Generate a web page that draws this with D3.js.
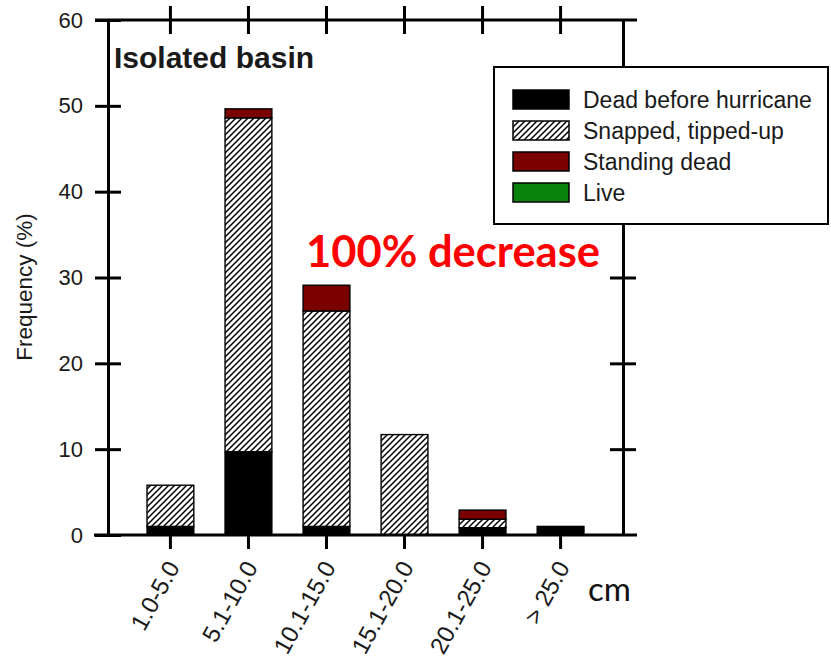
<!DOCTYPE html>
<html>
<head>
<meta charset="utf-8">
<script src="https://cdn.jsdelivr.net/npm/d3@7"></script>
<style>
  html, body { margin: 0; padding: 0; background: #fff; }
  svg text { font-family: "Liberation Sans", Arial, sans-serif; fill: #1a1a1a; }
</style>
</head>
<body>
<div id="container"></div>
<script>
// size classes (cm) and stacked frequencies (%)
const sizeClasses = ["1.0-5.0", "5.1-10.0", "10.1-15.0", "15.1-20.0", "20.1-25.0", "> 25.0"]
const deadBefore   = [1.0, 9.7, 1.0, 0, 0.85, 1.0]
const snapped      = [4.8, 38.9, 25.1, 11.7, 1.0, 0]
const standingDead = [0, 1.05, 3.0, 0, 1.05, 0]
const live         = [0, 0, 0, 0, 0, 0]
const yTicks = [0, 10, 20, 30, 40, 50, 60]

const seriesKeys = ["dead", "snapped", "standing", "live"]
const seriesNames = ["Dead before hurricane", "Snapped, tipped-up", "Standing dead", "Live"]
const fills = {dead: "#000", snapped: "url(#hatch)", standing: "#7b0000", live: "#0b820b"}

const data = sizeClasses.map((c, i) => ({
  cls: c, dead: deadBefore[i], snapped: snapped[i], standing: standingDead[i], live: live[i]
}))

const width = 831, height = 662
const plotLeft = 108, plotRight = 623, plotTop = 20, plotBottom = 535

const svg = d3.select("#container").append("svg")
  .attr("width", width)
  .attr("height", height)

// hatch pattern
svg.append("defs").append("pattern")
  .attr("id", "hatch")
  .attr("patternUnits", "userSpaceOnUse")
  .attr("width", 6).attr("height", 6)
  .call(p => p.append("rect").attr("width", 6).attr("height", 6).attr("fill", "#fff"))
  .append("path")
  .attr("d", "M0,6 L6,0 M-1,1 L1,-1 M5,7 L7,5")
  .attr("stroke", "#000").attr("stroke-width", 1.5)

const x = d3.scaleBand()
  .domain(sizeClasses)
  .range([plotLeft, plotRight])
  .paddingInner(0.4)
  .paddingOuter(0.5)

const y = d3.scaleLinear()
  .domain([0, 60])
  .range([plotBottom, plotTop])

// bars
const stacked = d3.stack().keys(seriesKeys)(data)
svg.append("g").selectAll("g")
  .data(stacked)
  .enter().append("g")
  .attr("fill", d => fills[d.key])
  .selectAll("rect")
  .data(d => d.filter(s => s[1] - s[0] > 0))
  .enter().append("rect")
  .attr("x", d => x(d.data.cls))
  .attr("y", d => y(d[1]))
  .attr("width", x.bandwidth())
  .attr("height", d => y(d[0]) - y(d[1]))
  .attr("stroke", "#000")
  .attr("stroke-width", 1.4)

/* axes */
const styleAxis = g => {
  g.select(".domain").attr("stroke", "#000").attr("stroke-width", 3)
  g.selectAll(".tick line").attr("stroke", "#000").attr("stroke-width", 3)
}

svg.append("g")
  .attr("transform", `translate(${plotLeft},0)`)
  .call(d3.axisLeft(y).tickValues(yTicks).tickSize(13).tickSizeOuter(0).tickPadding(12))
  .call(styleAxis)
  .call(g => g.selectAll(".tick line").attr("x1", 13))
  .call(g => g.selectAll(".tick text").attr("font-size", 22).attr("fill", "#1a1a1a"))

svg.append("g")
  .attr("transform", `translate(${plotRight},0)`)
  .call(d3.axisRight(y).tickValues(yTicks.slice(1, -1)).tickSize(13).tickSizeOuter(0).tickFormat(""))
  .call(styleAxis)
  .call(g => g.selectAll(".tick line").attr("x1", -13))

svg.append("g")
  .attr("transform", `translate(0,${plotTop})`)
  .call(d3.axisTop(x).tickSize(14).tickSizeOuter(0).tickFormat(""))
  .call(styleAxis)
  .call(g => g.selectAll(".tick line").attr("y1", 14))
  .call(g => g.select(".domain").attr("d", `M${plotLeft - 13},0H${plotRight + 14}`))

svg.append("g")
  .attr("transform", `translate(0,${plotBottom})`)
  .call(d3.axisBottom(x).tickSize(14).tickSizeOuter(0))
  .call(styleAxis)
  .call(g => g.selectAll(".tick text")
    .attr("font-size", 24)
    .attr("fill", "#1a1a1a")
    .attr("text-anchor", "end")
    .attr("y", 0).attr("dy", 0)
    .attr("transform", "translate(10,32) rotate(-61)"))
  .call(g => g.select(".domain").attr("d", `M${plotLeft - 14},0H${plotRight + 14}`))

// axis title
svg.append("text")
  .attr("transform", "translate(32,287) rotate(-90)")
  .attr("text-anchor", "middle")
  .attr("font-size", 22.5)
  .text("Frequency (%)")

svg.append("text")
  .attr("x", 114).attr("y", 68)
  .attr("font-size", 30)
  .attr("font-weight", "bold")
  .attr("fill", "#111")
  .text("Isolated basin")

/* legend */
const legend = svg.append("g")
legend.append("rect")
  .attr("x", 494).attr("y", 67)
  .attr("width", 334).attr("height", 157)
  .attr("fill", "#fff").attr("stroke", "#000").attr("stroke-width", 2)

const items = legend.selectAll(".item")
  .data(seriesKeys)
  .enter().append("g")
  .attr("class", "item")
  .attr("transform", (d, i) => `translate(513,${90 + i * 31})`)
items.append("rect")
  .attr("width", 56).attr("height", 19)
  .attr("fill", d => fills[d])
  .attr("stroke", "#000").attr("stroke-width", 1.5)
items.append("text")
  .attr("x", 70).attr("y", 18)
  .attr("font-size", 23)
  .text((d, i) => seriesNames[i])

// annotations
svg.append("text")
  .attr("x", 306).attr("y", 267)
  .style("font-family", "Lato, 'Open Sans', sans-serif")
  .style("fill", "#ff0000")
  .attr("font-weight", "bold")
  .attr("font-size", 43.5)
  .text("100% decrease")

svg.append("text")
  .attr("x", 588).attr("y", 601)
  .style("font-family", "Lato, 'Open Sans', sans-serif")
  .style("fill", "#111")
  .attr("font-size", 33)
  .text("cm")
</script>
</body>
</html>
